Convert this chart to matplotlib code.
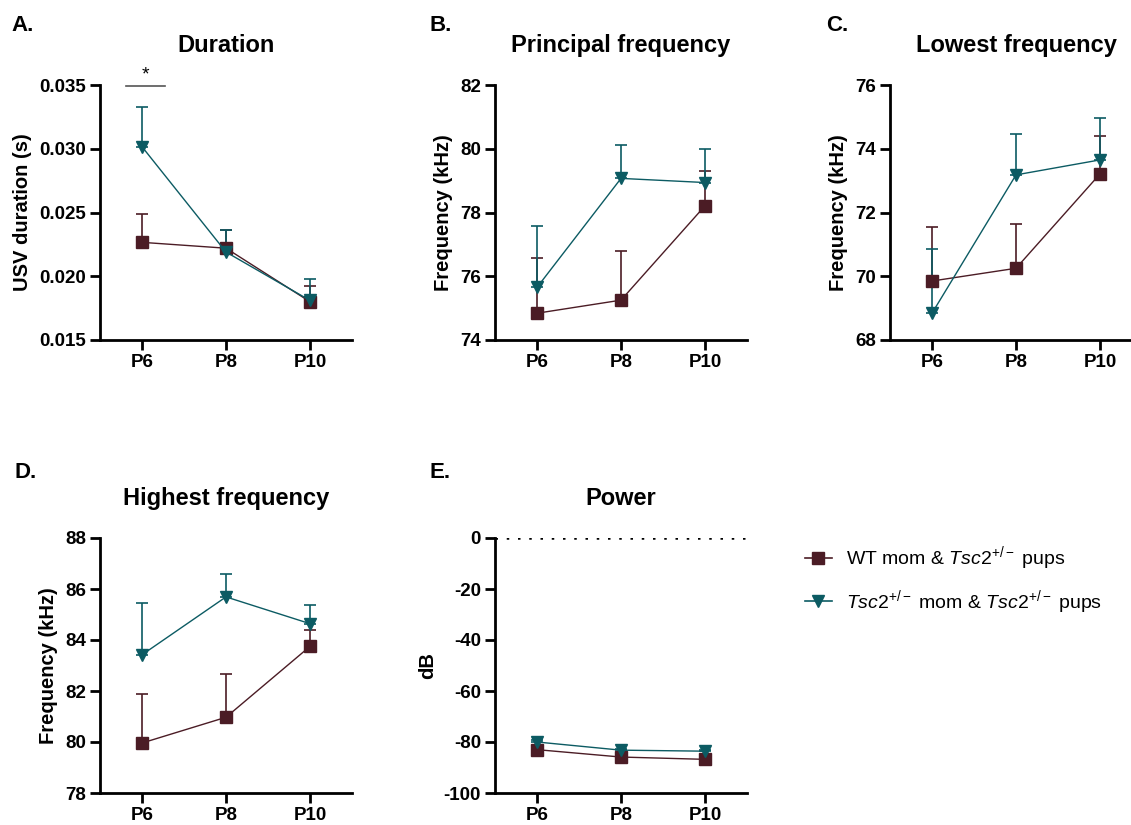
import matplotlib.pyplot as plt
from matplotlib.lines import Line2D

plt.rcParams['font.family'] = ['Liberation Sans', 'DejaVu Sans']
plt.rcParams['mathtext.fontset'] = 'custom'
plt.rcParams['mathtext.rm'] = 'Liberation Sans'
plt.rcParams['mathtext.it'] = 'Liberation Sans:italic'
plt.rcParams['mathtext.bf'] = 'Liberation Sans:bold'
plt.rcParams['axes.unicode_minus'] = False

days = ["P6", "P8", "P10"]
x = [1, 2, 3]

wt_color = "#4b1c25"
tsc_color = "#0c5b63"

# mean and upper error (mean + SEM) per panel
dur_wt = [0.02266, 0.0222, 0.0180]
dur_wt_up = [0.02486, 0.0236, 0.0192]
dur_tsc = [0.03016, 0.0219, 0.0181]
dur_tsc_up = [0.0333, 0.0236, 0.0198]

pf_wt = [74.84, 75.25, 78.21]
pf_wt_up = [76.58, 76.8, 79.31]
pf_tsc = [75.65, 79.07, 78.94]
pf_tsc_up = [77.59, 80.12, 80.0]

lf_wt = [69.85, 70.25, 73.21]
lf_wt_up = [71.55, 71.64, 74.4]
lf_tsc = [68.84, 73.18, 73.65]
lf_tsc_up = [70.85, 74.45, 74.95]

hf_wt = [79.96, 80.97, 83.75]
hf_wt_up = [81.88, 82.68, 84.4]
hf_tsc = [83.42, 85.69, 84.64]
hf_tsc_up = [85.45, 86.59, 85.37]

pw_wt = [-83.0, -85.9, -86.8]
pw_wt_up = [-82.3, -85.3, -86.2]
pw_tsc = [-80.0, -83.2, -83.6]
pw_tsc_up = [-79.4, -82.7, -83.1]

fig = plt.figure(figsize=(11.31, 8.25), dpi=100)

W, H = 1131, 825
aw, ah = 252 / W, 255 / H
top_b = 1 - 340 / H
bot_b = 1 - 793 / H
lefts = [100 / W, 495 / W, 890 / W]


def panel(pos, wt, wt_up, tsc, tsc_up, ylim, yticks, ylabel, title, letter,
          letter_x, letter_y, fmt=None):
    ax = fig.add_axes([pos[0], pos[1], aw, ah])
    for m, up, c, mk, ms in [(wt, wt_up, wt_color, "s", 8.5), (tsc, tsc_up, tsc_color, "v", 9)]:
        err = [[0] * len(m), [u - v for u, v in zip(up, m)]]
        ax.errorbar(x, m, yerr=err, color=c, marker=mk, markersize=ms, lw=1.0,
                    elinewidth=1.2, capsize=4, capthick=1.2, clip_on=False, zorder=3)
    ax.set_xlim(0.5, 3.5)
    ax.set_ylim(*ylim)
    ax.set_yticks(yticks)
    if fmt:
        ax.set_yticklabels([fmt.format(t) for t in yticks])
    else:
        ax.set_yticklabels([str(t) for t in yticks])
    ax.set_xticks(x)
    ax.set_xticklabels(days)
    for s in ["top", "right"]:
        ax.spines[s].set_visible(False)
    for s in ["left", "bottom"]:
        ax.spines[s].set_linewidth(2)
    ax.tick_params(width=2, length=7, labelsize=13.5, pad=3)
    for lab in ax.get_xticklabels() + ax.get_yticklabels():
        lab.set_fontweight("bold")
    ax.set_ylabel(ylabel, fontsize=14.5, fontweight="bold", labelpad=5)
    ax.text(0.5, 1.13, title, transform=ax.transAxes, fontsize=17,
            fontweight="bold", ha="center", va="baseline")
    ax.text(letter_x, letter_y, letter, transform=ax.transAxes, fontsize=16,
            fontweight="bold", ha="left", va="baseline")
    return ax


axA = panel((lefts[0], top_b), dur_wt, dur_wt_up, dur_tsc, dur_tsc_up,
            (0.015, 0.035), [0.015, 0.020, 0.025, 0.030, 0.035],
            "USV duration (s)", "Duration", "A.", -0.35, 1.21, fmt="{:.3f}")
axA.plot([0.81, 1.27], [0.0349, 0.0349], color="#555555", lw=1.2, clip_on=False)
axA.text(1.04, 0.0351, "*", ha="center", va="bottom", fontsize=14)

panel((lefts[1], top_b), pf_wt, pf_wt_up, pf_tsc, pf_tsc_up,
      (74, 82), [74, 76, 78, 80, 82], "Frequency (kHz)", "Principal frequency", "B.",
      -0.26, 1.21)
panel((lefts[2], top_b), lf_wt, lf_wt_up, lf_tsc, lf_tsc_up,
      (68, 76), [68, 70, 72, 74, 76], "Frequency (kHz)", "Lowest frequency", "C.",
      -0.255, 1.21)
panel((lefts[0], bot_b), hf_wt, hf_wt_up, hf_tsc, hf_tsc_up,
      (78, 88), [78, 80, 82, 84, 86, 88], "Frequency (kHz)", "Highest frequency", "D.",
      -0.34, 1.235)
axE = panel((lefts[1], bot_b), pw_wt, pw_wt_up, pw_tsc, pw_tsc_up,
            (-100, 0), [-100, -80, -60, -40, -20, 0], "dB", "Power", "E.",
            -0.26, 1.235)
axE.axhline(0, color="black", lw=1.8, ls=(0, (1, 3.5)), zorder=1)

handles = [
    Line2D([], [], color=wt_color, marker="s", markersize=8.5, lw=1.2),
    Line2D([], [], color=tsc_color, marker="v", markersize=9, lw=1.2),
]
labels = [
    r"WT mom & $\mathit{Tsc2}^{+/-}$ pups",
    r"$\mathit{Tsc2}^{+/-}$ mom & $\mathit{Tsc2}^{+/-}$ pups",
]
fig.legend(handles, labels, loc="upper left", bbox_to_anchor=(787 / W, 1 - 527 / H),
           frameon=False, fontsize=14, handlelength=1.4, handletextpad=0.75,
           labelspacing=0.8)

fig.savefig("out.png", dpi=100)
